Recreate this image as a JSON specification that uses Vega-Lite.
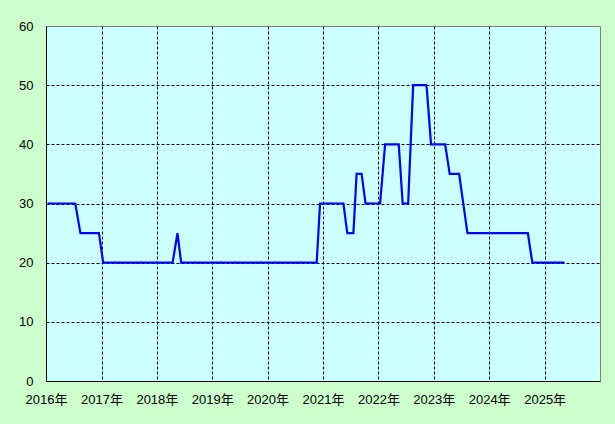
{
  "$schema": "https://vega.github.io/schema/vega-lite/v6.json",
  "width": 554,
  "height": 355,
  "autosize": {"type": "none"},
  "padding": {"left": 46, "top": 26, "right": 15, "bottom": 43},
  "background": "#ccffcc",
  "config": {
    "view": {"fill": "#ccffff", "stroke": "#808080", "strokeWidth": 1},
    "axis": {
      "labelFont": "Liberation Sans, Noto Sans CJK JP, sans-serif",
      "labelFontSize": 13,
      "labelColor": "#000000",
      "ticks": false,
      "domainColor": "#000000",
      "domainWidth": 1,
      "gridColor": "#000000",
      "gridDash": [3, 2],
      "gridWidth": 1,
      "gridOpacity": 1,
      "title": null
    }
  },
  "data": {
    "values": [
      {"date": "2016-01-12", "value": 30},
      {"date": "2016-07-12", "value": 30},
      {"date": "2016-08-15", "value": 25},
      {"date": "2016-12-15", "value": 25},
      {"date": "2017-01-12", "value": 20},
      {"date": "2018-04-15", "value": 20},
      {"date": "2018-05-17", "value": 25},
      {"date": "2018-06-10", "value": 20},
      {"date": "2020-11-20", "value": 20},
      {"date": "2020-12-12", "value": 30},
      {"date": "2021-05-15", "value": 30},
      {"date": "2021-06-10", "value": 25},
      {"date": "2021-07-20", "value": 25},
      {"date": "2021-08-10", "value": 35},
      {"date": "2021-09-12", "value": 35},
      {"date": "2021-10-08", "value": 30},
      {"date": "2022-01-12", "value": 30},
      {"date": "2022-02-14", "value": 40},
      {"date": "2022-05-15", "value": 40},
      {"date": "2022-06-10", "value": 30},
      {"date": "2022-07-16", "value": 30},
      {"date": "2022-08-18", "value": 50},
      {"date": "2022-11-14", "value": 50},
      {"date": "2022-12-14", "value": 40},
      {"date": "2023-03-17", "value": 40},
      {"date": "2023-04-16", "value": 35},
      {"date": "2023-06-17", "value": 35},
      {"date": "2023-08-11", "value": 25},
      {"date": "2024-09-12", "value": 25},
      {"date": "2024-10-12", "value": 20},
      {"date": "2025-05-12", "value": 20}
    ]
  },
  "mark": {"type": "line", "color": "#0000ff", "strokeWidth": 2.2, "interpolate": "linear"},
  "encoding": {
    "x": {
      "field": "date",
      "type": "temporal",
      "scale": {
        "type": "utc",
        "domain": [
          {"year": 2016, "month": 1, "date": 1, "utc": true},
          {"year": 2026, "month": 1, "date": 1, "utc": true}
        ]
      },
      "axis": {
        "values": [
          {"year": 2016, "month": 1, "date": 1, "utc": true},
          {"year": 2017, "month": 1, "date": 1, "utc": true},
          {"year": 2018, "month": 1, "date": 1, "utc": true},
          {"year": 2019, "month": 1, "date": 1, "utc": true},
          {"year": 2020, "month": 1, "date": 1, "utc": true},
          {"year": 2021, "month": 1, "date": 1, "utc": true},
          {"year": 2022, "month": 1, "date": 1, "utc": true},
          {"year": 2023, "month": 1, "date": 1, "utc": true},
          {"year": 2024, "month": 1, "date": 1, "utc": true},
          {"year": 2025, "month": 1, "date": 1, "utc": true}
        ],
        "labelExpr": "utcFormat(datum.value, '%Y') + '年'",
        "labelPadding": 12,
        "labelAlign": "center",
        "labelFlush": false,
        "labelOverlap": false
      }
    },
    "y": {
      "field": "value",
      "type": "quantitative",
      "scale": {"domain": [0, 60], "nice": false},
      "axis": {
        "values": [0, 10, 20, 30, 40, 50, 60],
        "labelPadding": 13,
        "labelFlush": false,
        "gridOpacity": {"condition": {"test": "datum.value == 60", "value": 0}, "value": 1}
      }
    }
  }
}
